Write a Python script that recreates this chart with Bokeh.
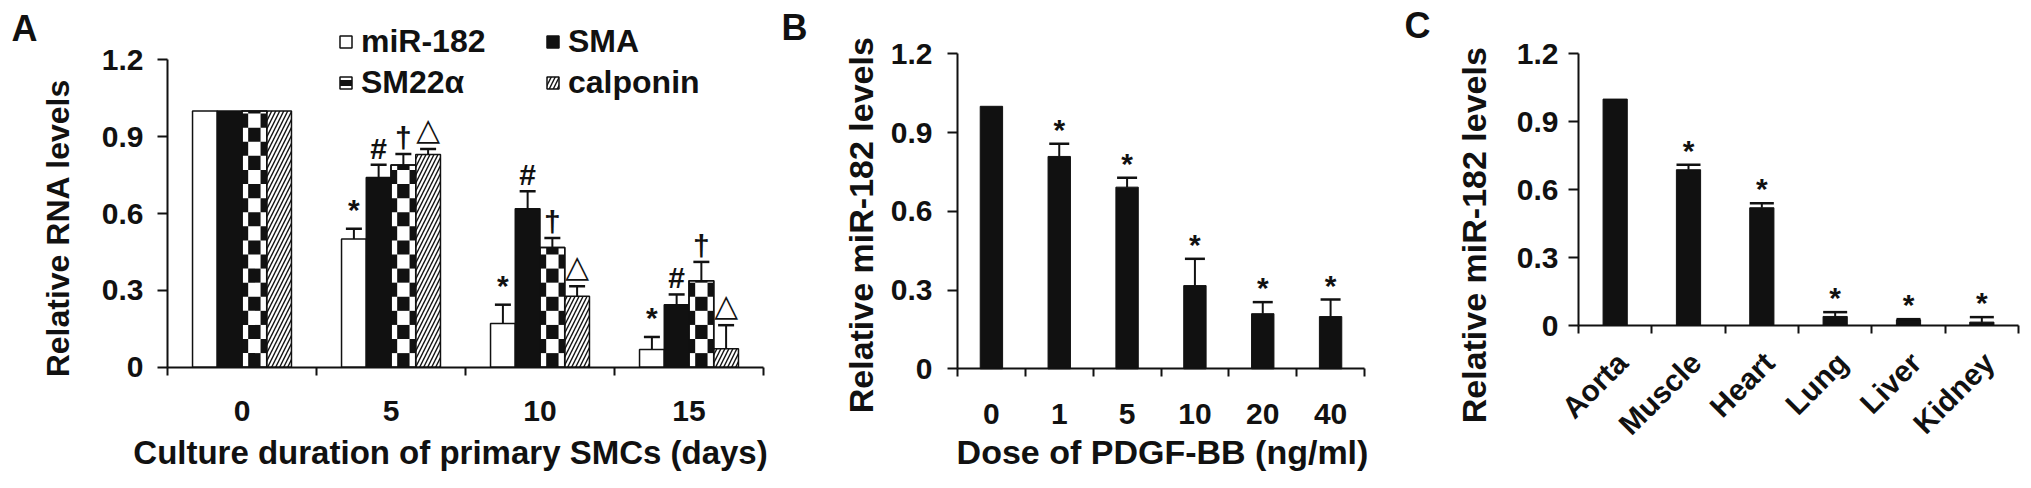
import math
from bokeh.plotting import figure
from bokeh.models import (Range1d, FixedTicker, ColumnDataSource, Whisker, TeeHead,
                          Legend, LegendItem, Label)
from bokeh.layouts import row
from bokeh.core.properties import value
from bokeh.embed import file_html
from bokeh.resources import INLINE

# ---------------- data ----------------
# Panel A
days = ["0", "5", "10", "15"]
series_names = ["miR-182", "SMA", "SM22α", "calponin"]
mir182 = [1.0, 0.50, 0.171, 0.069]
mir182_err = [0.0, 0.04, 0.073, 0.049]
sma = [1.0, 0.741, 0.619, 0.244]
sma_err = [0.0, 0.049, 0.068, 0.040]
sm22a = [1.0, 0.789, 0.467, 0.337]
sm22a_err = [0.0, 0.043, 0.037, 0.074]
calponin = [1.0, 0.83, 0.277, 0.072]
calponin_err = [0.0, 0.022, 0.039, 0.092]
sig_marks_a = ["*", "#", "†", "△"]
sig_groups_a = [False, True, True, True]

# Panel B
doses = ["0", "1", "5", "10", "20", "40"]
pdgf_level = [1.0, 0.809, 0.692, 0.317, 0.210, 0.199]
pdgf_err = [0.0, 0.048, 0.036, 0.102, 0.044, 0.065]
pdgf_sig = [False, True, True, True, True, True]

# Panel C
tissues = ["Aorta", "Muscle", "Heart", "Lung", "Liver", "Kidney"]
tissue_level = [1.0, 0.688, 0.52, 0.04, 0.025, 0.015]
tissue_err = [0.0, 0.022, 0.02, 0.019, 0.003, 0.022]
tissue_sig = [False, True, True, True, True, True]

y_ticks = [0, 0.3, 0.6, 0.9, 1.2]
y_tick_labels = ["0", "0.3", "0.6", "0.9", "1.2"]

# ---------------- style / layout ----------------
FONT_NAME = "Liberation Sans"
FONT = value(FONT_NAME)
INK = "#111111"
TICK_FS = "30px"
TOP = 0
FIG_H = 486
Y_MAX = 1.2


class Geo:
    """Maps page pixels to data coordinates for one panel (layout helper)."""
    def __init__(self, fig_left, fig_w, x0px, x1px, n, y0px, y1px):
        self.kx = n / (x1px - x0px)
        self.x0px = x0px
        self.ky = Y_MAX / (y0px - y1px)
        self.y0px = y0px
        self.x_start = self.dx(fig_left)
        self.x_end = self.dx(fig_left + fig_w)
        self.y_end = self.dy(TOP)
        self.y_start = self.dy(TOP + FIG_H)

    def dx(self, sx):
        return (sx - self.x0px) * self.kx

    def dy(self, sy):
        return (self.y0px - sy) * self.ky


def make_fig(g, cats, fig_w, x_standoff, y_standoff, label_shift=0.0):
    n = len(cats)
    p = figure(x_range=Range1d(g.x_start, g.x_end), y_range=Range1d(g.y_start, g.y_end),
               width=fig_w, height=FIG_H, min_border=0,
               output_backend="svg", toolbar_location=None, tools="")
    p.title.visible = False
    p.outline_line_color = None
    p.grid.visible = False
    p.background_fill_color = "white"
    p.border_fill_color = "white"

    centers = [i + 0.5 for i in range(n)]
    label_pos = [c + label_shift for c in centers]
    xa = p.xaxis[0]
    xa.fixed_location = 0
    xa.bounds = (0, n)
    xa.ticker = FixedTicker(ticks=label_pos, minor_ticks=[float(i) for i in range(n + 1)])
    xa.major_label_overrides = {c: lab for c, lab in zip(label_pos, cats)}
    xa.major_tick_line_color = None
    xa.major_tick_out = 0
    xa.major_tick_in = 0
    xa.minor_tick_out = 8
    xa.minor_tick_in = 0
    xa.minor_tick_line_width = 2
    xa.minor_tick_line_color = INK
    xa.major_label_standoff = x_standoff

    ya = p.yaxis[0]
    ya.fixed_location = 0
    ya.bounds = (0, Y_MAX)
    ya.ticker = FixedTicker(ticks=y_ticks)
    ya.major_label_overrides = {t: lab for t, lab in zip(y_ticks, y_tick_labels)}
    ya.major_tick_out = 10
    ya.major_tick_in = 0
    ya.major_tick_line_width = 2
    ya.major_tick_line_color = INK
    ya.minor_tick_line_color = None
    ya.major_label_standoff = y_standoff

    for ax in (xa, ya):
        ax.axis_line_width = 2
        ax.axis_line_color = INK
        ax.major_label_text_font = FONT_NAME
        ax.major_label_text_font_style = "bold"
        ax.major_label_text_font_size = TICK_FS
        ax.major_label_text_color = INK
    return p, centers


def add_errors(p, xs, vals, errs, head):
    keep = [i for i, e in enumerate(errs) if e > 0]
    src = ColumnDataSource(dict(x=[xs[i] for i in keep],
                                lower=[vals[i] for i in keep],
                                upper=[vals[i] + errs[i] for i in keep]))
    w = Whisker(source=src, base="x", lower="lower", upper="upper",
                lower_head=None,
                upper_head=TeeHead(size=head, line_width=2.5, line_color=INK),
                line_width=2, line_color=INK, level="annotation")
    p.add_layout(w)


def add_marks(p, xs, vals, errs, flags, mark, size, font, yoff):
    keep = [i for i, f in enumerate(flags) if f]
    src = ColumnDataSource(dict(x=[xs[i] for i in keep],
                                y=[vals[i] + errs[i] for i in keep],
                                t=[mark] * len(keep)))
    p.text(x="x", y="y", text="t", source=src, text_font=font,
           text_font_style="bold", text_font_size=size, text_color=INK,
           text_align="center", text_baseline="bottom", y_offset=yoff)


def add_text(p, g, text, sx, sy, size, angle=0.0, align="center"):
    p.add_layout(Label(x=g.dx(sx), y=g.dy(sy), text=text, angle=angle,
                       text_font=FONT_NAME, text_font_style="bold", text_font_size=size,
                       text_color=INK, text_align=align, text_baseline="middle"))


# ---------------- Panel A ----------------
W_A, W_B, W_C = 780, 610, 640
gA = Geo(0, W_A, 167, 763, len(days), 366.7, 59.3)
pA, cA = make_fig(gA, days, W_A, 26, 14)

bar_w_a = 0.166
CHECK_H = 0.055   # checker cell height (data units)
series_vals = [mir182, sma, sm22a, calponin]
series_errs = [mir182_err, sma_err, sm22a_err, calponin_err]
styles = [
    dict(fill_color="white"),
    dict(fill_color=INK),
    dict(fill_color="white"),
    dict(fill_color="white", hatch_pattern="/", hatch_scale=8, hatch_weight=1.4,
         hatch_color=INK),
]
renderers = []
xs_series = []
for k, (vals, st) in enumerate(zip(series_vals, styles)):
    xs = [c + (k - 1.5) * bar_w_a for c in cA]
    xs_series.append(xs)
    r = pA.vbar(x=xs, top=vals, bottom=0, width=bar_w_a, line_color=INK,
                line_width=1.5, **st)
    renderers.append(r)

# checkerboard cells for SM22α bars, derived from the bar heights
ql, qr, qb, qt = [], [], [], []
for xc, v in zip(xs_series[2], sm22a):
    nrows = int(math.ceil(v / CHECK_H - 1e-9))
    for rr in range(nrows):
        b = rr * CHECK_H
        t = min((rr + 1) * CHECK_H, v)
        if rr % 2 == 0:
            spans = [(xc - bar_w_a / 4, xc + bar_w_a / 4)]
        else:
            spans = [(xc - bar_w_a / 2, xc - bar_w_a / 4), (xc + bar_w_a / 4, xc + bar_w_a / 2)]
        for a, bb in spans:
            ql.append(a); qr.append(bb); qb.append(b); qt.append(t)
pA.quad(left=ql, right=qr, bottom=qb, top=qt, fill_color=INK, line_color=None)
pA.vbar(x=xs_series[2], top=sm22a, bottom=0, width=bar_w_a, fill_alpha=0,
        line_color=INK, line_width=1.5)
# legend-only swatch texture for SM22α (zero-width, invisible in the plot)
sw = pA.vbar(x=xs_series[2], top=sm22a, bottom=0, width=0, fill_alpha=0, line_alpha=0,
             hatch_pattern="-", hatch_scale=14, hatch_weight=6, hatch_color=INK)

for k in range(4):
    add_errors(pA, xs_series[k], series_vals[k], series_errs[k], 16)
for k in range(4):
    if sig_marks_a[k] == "△":
        add_marks(pA, xs_series[k], series_vals[k], series_errs[k], sig_groups_a,
                  sig_marks_a[k], "31px", value("DejaVu Sans"), -2)
    elif sig_marks_a[k] == "*":
        add_marks(pA, xs_series[k], series_vals[k], series_errs[k], sig_groups_a,
                  sig_marks_a[k], "30px", FONT, -3)
    else:
        add_marks(pA, xs_series[k], series_vals[k], series_errs[k], sig_groups_a,
                  sig_marks_a[k], "30px", FONT, 0)


def legend_row(items, bottom_px):
    return Legend(items=items, location=(338, (TOP + FIG_H) - bottom_px),
                  orientation="horizontal", glyph_width=15, glyph_height=15,
                  label_standoff=8, label_width=184, label_height=36, spacing=0,
                  padding=0, margin=0, border_line_color=None, background_fill_alpha=0,
                  label_text_font=FONT_NAME, label_text_font_style="bold",
                  label_text_font_size="32px", label_text_color=INK)


pA.add_layout(legend_row([LegendItem(label=series_names[0], renderers=[renderers[0]]),
                          LegendItem(label=series_names[1], renderers=[renderers[1]])], 60))
pA.add_layout(legend_row([LegendItem(label=series_names[2], renderers=[renderers[2], sw]),
                          LegendItem(label=series_names[3], renderers=[renderers[3]])], 101))

add_text(pA, gA, "A", 11, 28, "36px", align="left")
add_text(pA, gA, "Relative RNA  levels", 57, 223, "32px", angle=math.pi / 2)
add_text(pA, gA, "Culture duration of primary SMCs (days)", 450, 452, "33px")

# ---------------- Panel B ----------------
gB = Geo(W_A, W_B, 957, 1364, len(doses), 368.3, 53.3)
pB, cB = make_fig(gB, doses, W_B, 27, 15)
pB.vbar(x=cB, top=pdgf_level, bottom=0, width=0.33, fill_color=INK, line_color=INK)
add_errors(pB, cB, pdgf_level, pdgf_err, 20)
add_marks(pB, cB, pdgf_level, pdgf_err, pdgf_sig, "*", "30px", FONT, 2)
add_text(pB, gB, "B", 781, 27, "36px", align="left")
add_text(pB, gB, "Relative miR-182  levels", 860, 220, "34px", angle=math.pi / 2)
add_text(pB, gB, "Dose of PDGF-BB (ng/ml)", 1162, 451, "34px")

# ---------------- Panel C ----------------
gC = Geo(W_A + W_B, W_C, 1578, 2018, len(tissues), 325, 53.3)
pC, cC = make_fig(gC, tissues, W_C, 24, 10, label_shift=0.1)
pC.xaxis[0].major_label_orientation = math.pi / 4
pC.vbar(x=cC, top=tissue_level, bottom=0, width=0.33, fill_color=INK, line_color=INK)
add_errors(pC, cC, tissue_level, tissue_err, 24)
add_marks(pC, cC, tissue_level, tissue_err, tissue_sig, "*", "30px", FONT, 2)
add_text(pC, gC, "C", 1404, 25, "36px", align="left")
add_text(pC, gC, "Relative miR-182  levels", 1473, 230, "34px", angle=math.pi / 2)

layout = row(pA, pB, pC)
open("out.html", "w").write(file_html(layout, INLINE))
